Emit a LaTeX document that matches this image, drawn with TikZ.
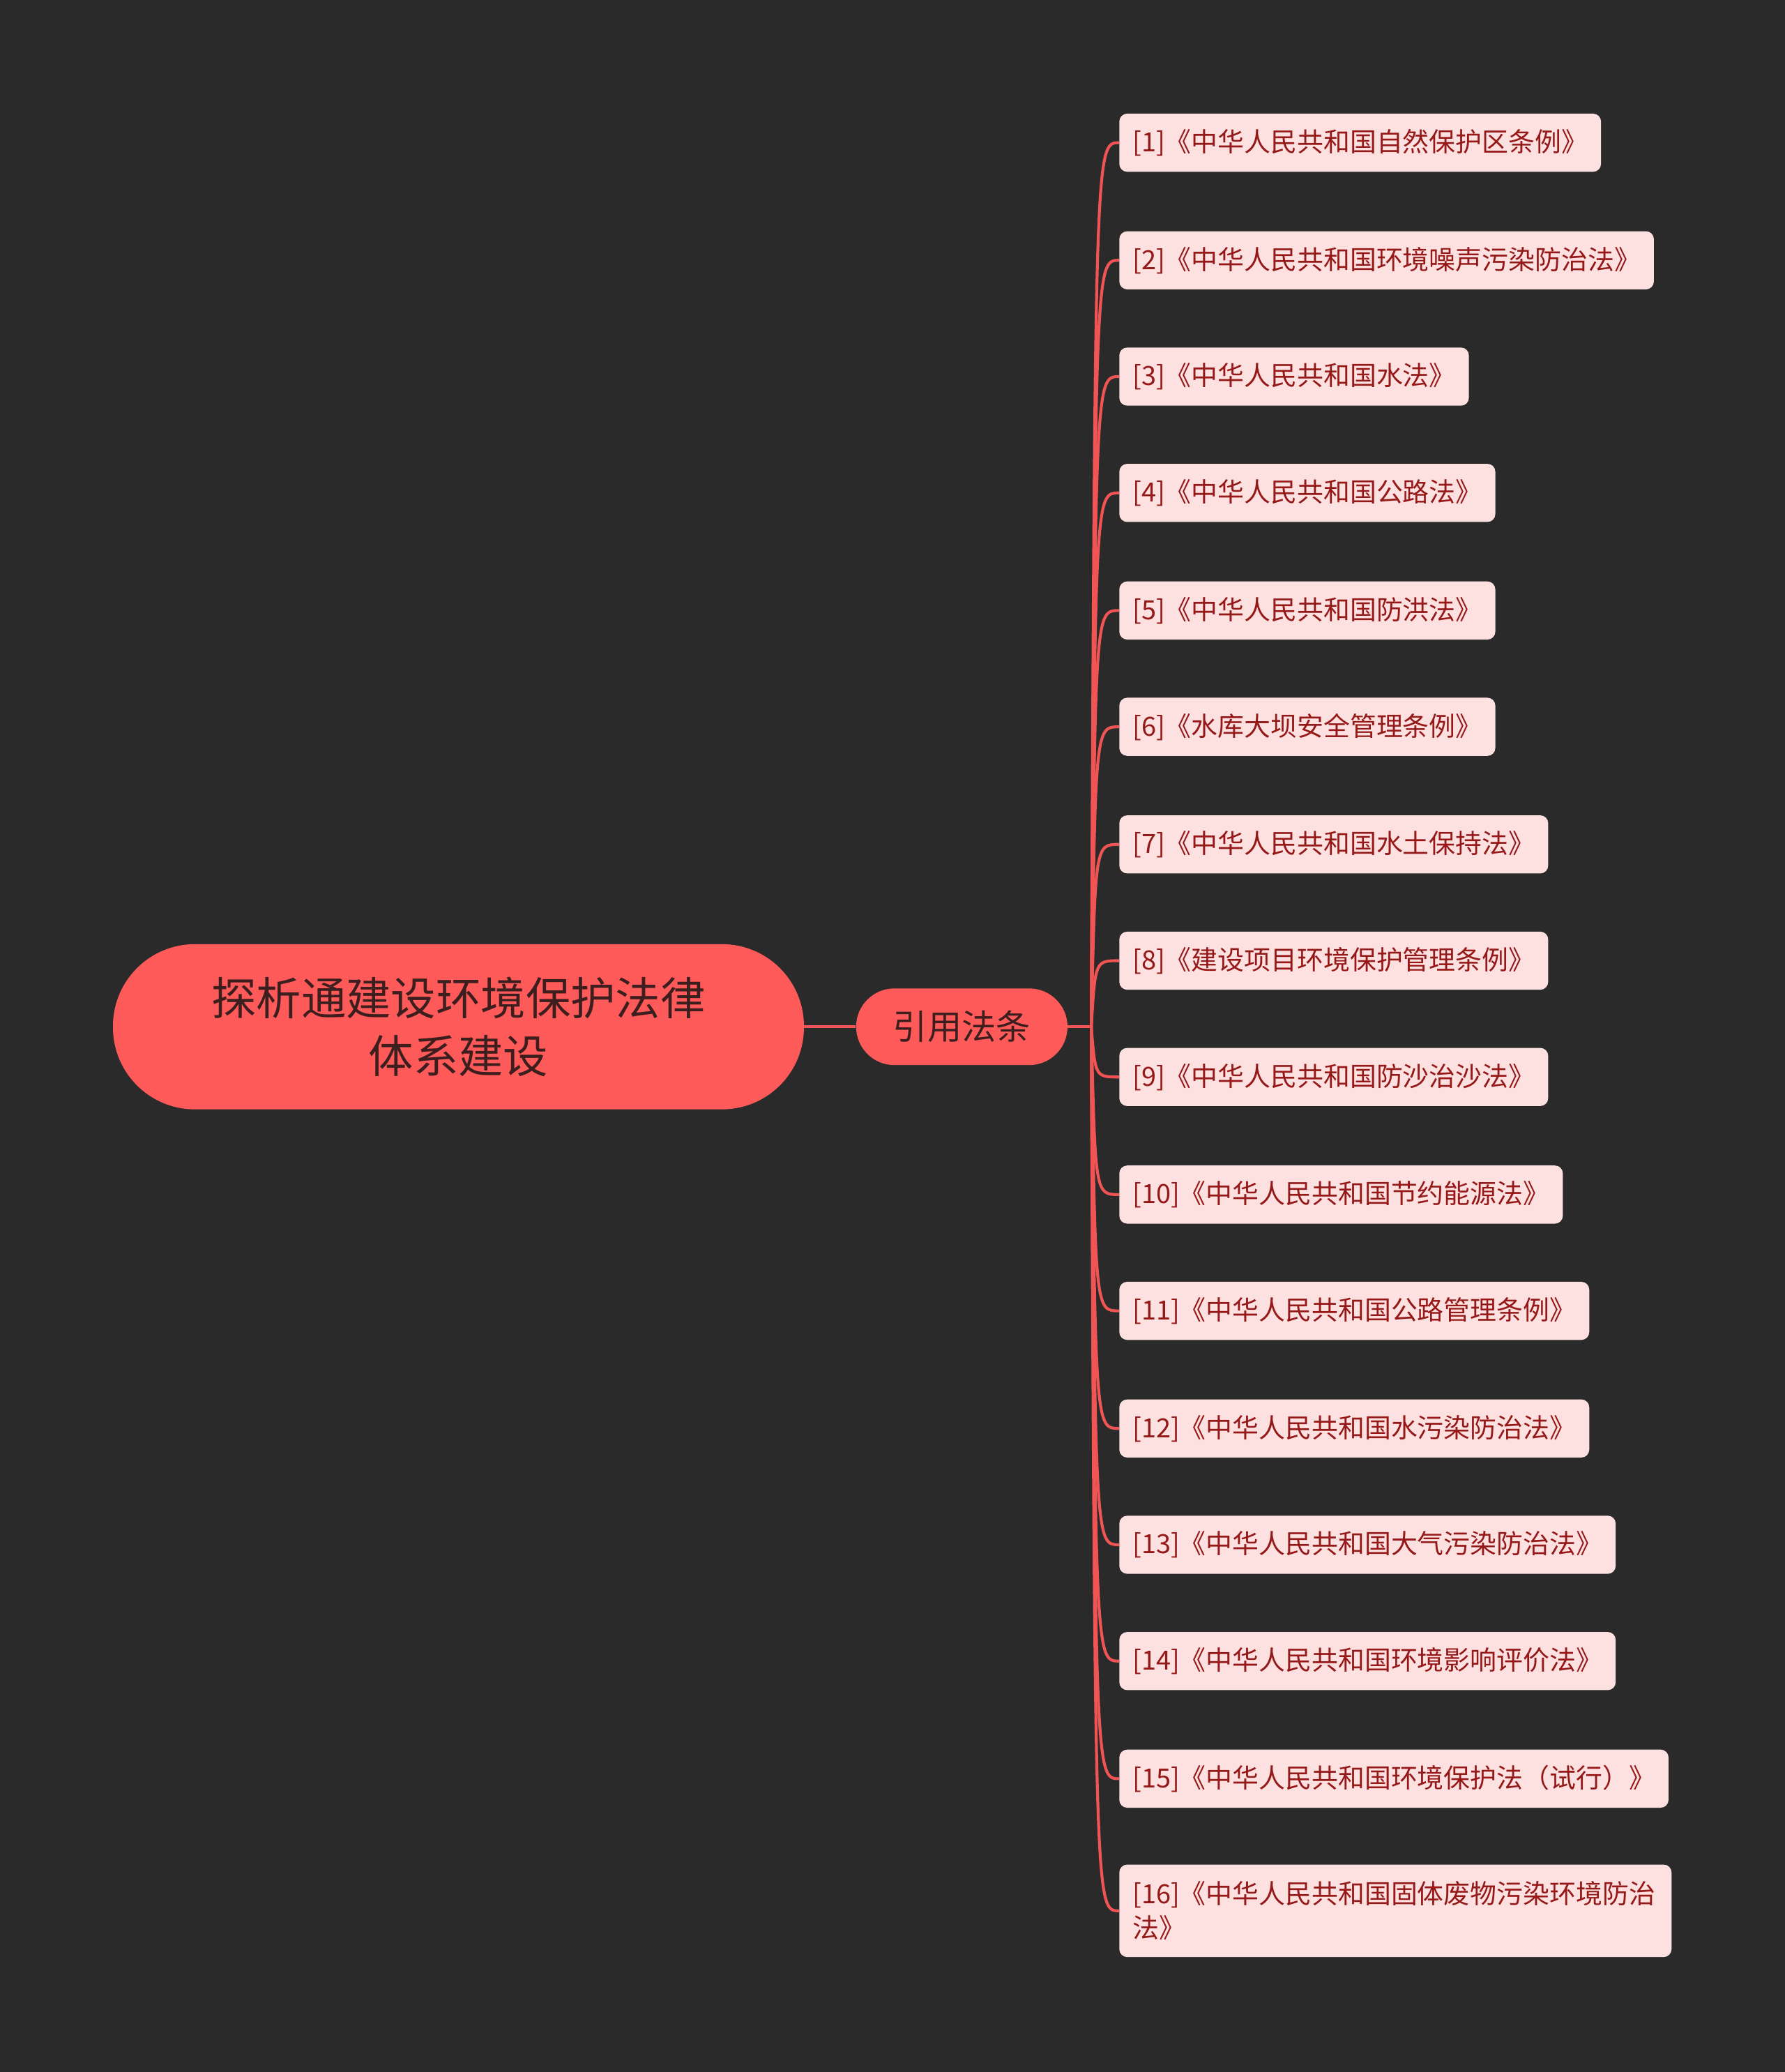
\documentclass[tikz,border=0pt]{standalone}
\usepackage{fontspec}
\setmainfont{Noto Sans CJK SC}
\definecolor{bg}{RGB}{42,42,42}
\definecolor{redf}{RGB}{255,90,90}
\definecolor{linec}{RGB}{240,84,84}
\definecolor{darkt}{RGB}{60,30,30}
\definecolor{leaff}{RGB}{253,224,224}
\definecolor{leaft}{RGB}{150,25,25}
\begin{document}
\begin{tikzpicture}[x=1pt,y=-1pt,
  conn/.style={draw=linec, line width=2.2pt},
  rootbox/.style={fill=redf, rounded corners=62pt, minimum width=523pt, minimum height=125pt, text=darkt, font=\fontsize{34}{44}\selectfont, align=center, inner sep=0pt},
  midbox/.style={fill=redf, rounded corners=29pt, minimum width=160pt, minimum height=58pt, text=darkt, font=\fontsize{26}{30}\selectfont, inner sep=0pt},
  leaf/.style={fill=leaff, rounded corners=6pt, minimum height=44pt, anchor=west, text=leaft, font=\fontsize{20}{26}\selectfont, inner xsep=10pt, inner ysep=6pt, align=left}]
\fill[bg] (0,0) rectangle (1351,1568);
\node[rootbox] (root) at (347,777) {探析通建设环境保护法律\\体系建设};
\node[midbox] (mid) at (728,777) {引用法条};
\coordinate (hub) at (826,777);
\draw[conn] (root.east) -- (mid.west);
\draw[conn] (mid.east) -- (hub);
\foreach \i/\y/\t in {1/108/{[1]《中华人民共和国自然保护区条例》},2/197/{[2]《中华人民共和国环境噪声污染防治法》},3/285/{[3]《中华人民共和国水法》},4/373/{[4]《中华人民共和国公路法》},5/462/{[5]《中华人民共和国防洪法》},6/550/{[6]《水库大坝安全管理条例》},7/639/{[7]《中华人民共和国水土保持法》},8/727/{[8]《建设项目环境保护管理条例》},9/815/{[9]《中华人民共和国防沙治沙法》},10/904/{[10]《中华人民共和国节约能源法》},11/992/{[11]《中华人民共和国公路管理条例》},12/1081/{[12]《中华人民共和国水污染防治法》},13/1169/{[13]《中华人民共和国大气污染防治法》},14/1257/{[14]《中华人民共和国环境影响评价法》},15/1346/{[15]《中华人民共和国环境保护法（试行）》}}{
  \node[leaf] (l\i) at (847,\y) {\t};
  \draw[conn] (hub) .. controls (829,\y) and (829,\y) .. (l\i.west);
}
\node[leaf, text width=398pt, minimum height=70pt] (l16) at (847,1446) {[16]《中华人民共和国固体废物污染环境防治\\法》};
\draw[conn] (hub) .. controls (829,1446) and (829,1446) .. (l16.west);
\end{tikzpicture}
\end{document}
